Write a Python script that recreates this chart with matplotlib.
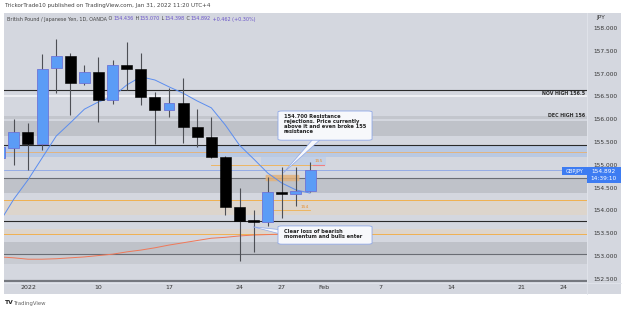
import numpy as np
import pandas as pd
import matplotlib
matplotlib.use("Agg")
import matplotlib.pyplot as plt
from matplotlib.patches import Rectangle, FancyBboxPatch, Polygon
from matplotlib.text import Annotation

# daily GBPJPY candles, Dec 30 2021 .. Jan 31 2022 (weekdays)
opens  = [155.15, 155.37, 155.72, 155.46, 157.12, 157.39, 156.79, 157.04, 156.42, 157.19, 157.10, 156.49,
          156.20, 156.36, 155.83, 155.61, 155.17, 154.07, 153.79, 153.75, 154.40, 154.36, 154.436]
highs  = [155.45, 156.00, 155.92, 157.43, 157.76, 157.45, 157.19, 157.36, 157.30, 157.69, 157.45, 156.60,
          156.68, 156.90, 156.22, 156.05, 155.19, 154.49, 154.01, 154.73, 154.95, 154.95, 155.070]
lows   = [155.00, 155.00, 154.89, 155.32, 156.57, 156.09, 156.75, 155.94, 156.33, 156.64, 156.31, 155.46,
          156.05, 155.48, 155.39, 155.15, 153.90, 152.89, 153.09, 153.66, 153.83, 154.10, 154.398]
closes = [155.39, 155.72, 155.46, 157.10, 157.39, 156.79, 157.04, 156.42, 157.19, 157.10, 156.49, 156.20,
          156.36, 155.83, 155.61, 155.17, 154.07, 153.77, 153.75, 154.40, 154.36, 154.43, 154.892]
ma_fast = [153.75, 154.25, 154.67, 155.15, 155.63, 155.92, 156.22, 156.38, 156.49, 156.75, 156.93, 156.86,
           156.71, 156.57, 156.40, 156.25, 155.87, 155.43, 155.13, 154.82, 154.60, 154.45, 154.38]
ma_slow = [152.98, 152.96, 152.93, 152.93, 152.94, 152.96, 152.98, 153.01, 153.04, 153.09, 153.13, 153.18,
           153.24, 153.29, 153.34, 153.39, 153.41, 153.44, 153.46, 153.47, 153.48, 153.49, 153.50]

first_day = "2021-12-30"
tick_dates = ["2022-01-03", "2022-01-10", "2022-01-17", "2022-01-24", "2022-01-27",
              "2022-02-01", "2022-02-07", "2022-02-14", "2022-02-21", "2022-02-24"]
tick_labels = ["2022", "10", "17", "24", "27", "Feb", "7", "14", "21", "24"]
price_ticks = [152.5, 153.0, 153.5, 154.0, 154.5, 155.0, 155.5, 156.0, 156.5, 157.0, 157.5, 158.0]

# zones drawn by the author (price from, price to, colour)
zones = [(156.07, 156.00, "#c3c6cd"), (155.96, 155.63, "#bfc2c9"), (155.43, 155.17, "#b9c9e3"),
         (154.71, 154.38, "#bfc2c9"), (154.23, 153.90, "#ddd5cc"), (153.59, 153.48, "#ddd5cc"),
         (153.31, 153.04, "#bfc2c9"), (153.04, 152.82, "#c8cbd2")]
levels = [(156.64, "#2a2a2a", 0.8), (156.50, "#f4f5f8", 1.2), (155.43, "#2a2a2a", 0.8),
          (155.28, "#e8b070", 0.6), (154.71, "#6a6d74", 0.8), (154.23, "#f0b050", 0.7),
          (153.76, "#2a2a2a", 0.8), (153.48, "#f0b050", 0.7), (153.04, "#6a6d74", 0.8),
          (152.46, "#75787f", 1.6)]

W, H = 625, 312
BG = "#d4d7df"
fig = plt.figure(figsize=(W / 100, H / 100), dpi=100)
fig.patch.set_facecolor("white")

def fx(px):
    return px / W

def fy(py):
    return 1 - py / H

fig.patches.append(Rectangle((fx(4), fy(294)), fx(617), 281 / H, transform=fig.transFigure,
                             facecolor=BG, edgecolor="none", zorder=-5))

ax = fig.add_axes([fx(4), fy(282), fx(583), 269 / H])
ax.set_facecolor(BG)
for s in ax.spines.values():
    s.set_visible(False)

days = pd.bdate_range(first_day, "2022-03-31")
n = len(opens)
x = np.arange(n)

for top, bot, col in zones:
    ax.axhspan(bot, top, color=col, lw=0, zorder=1)
for p, col, lw in levels:
    ax.axhline(p, color=col, lw=lw, zorder=2)

# extra small pieces
ax.add_patch(Rectangle((18.5, 155.0), 4.6, 0.17, facecolor="#c3d0e6", edgecolor="none", zorder=1.5))
ax.plot([15.0, 22.3], [155.0, 155.0], color="#f0b050", lw=0.6, zorder=2)
ax.plot([22.2, 23.0], [155.0, 155.0], color="#f08080", lw=0.8, zorder=2)
ax.text(22.6, 155.03, "155", fontsize=3.2, color="#e89030", ha="center", va="bottom", zorder=6)
ax.plot([19.0, 22.0], [154.0, 154.0], color="#f0b050", lw=0.6, zorder=2)
ax.text(21.6, 154.03, "154", fontsize=3.2, color="#e89030", ha="center", va="bottom", zorder=6)
ax.add_patch(FancyBboxPatch((18.85, 154.64), 2.4, 0.14, boxstyle="round,pad=0,rounding_size=0.07",
                            mutation_aspect=0.14 / 2.4 * 6, facecolor="#e3b27a", edgecolor="none",
                            alpha=0.85, zorder=3))

# moving averages
ax.plot(x, ma_fast, color="#5b8def", lw=0.7, zorder=4)
ax.plot(x, ma_slow, color="#f07858", lw=0.7, zorder=4)

# candles
o = np.array(opens); c = np.array(closes)
up = c >= o
ax.vlines(x, lows, highs, color="#4d4f55", lw=0.8, zorder=4.5)
ax.bar(x[up], (c - o)[up], bottom=o[up], width=0.78, color="#5b9cf6", edgecolor="#6c74d6",
       lw=0.6, zorder=5)
ax.bar(x[~up], np.maximum((o - c)[~up], 0.03), bottom=c[~up], width=0.78, color="#000000",
       edgecolor="#000000", lw=0.4, zorder=5)

# current price line
ax.axhline(closes[-1], color="#7d9be8", lw=0.5, zorder=2)

# level labels
ax.text(41.5, 156.565, "NOV HIGH 156.5", fontsize=3.4, fontweight="bold", color="#303030",
        ha="right", va="center", zorder=6)
ax.text(41.5, 156.09, "DEC HIGH 156", fontsize=3.4, fontweight="bold", color="#303030",
        ha="right", va="center", zorder=6)

# callouts
def callout(x0, x1, y0, y1, tri, text):
    ax.add_patch(Polygon(tri, closed=True, facecolor="#f7f8fb", edgecolor="#8fa8e8", lw=0.5, zorder=7))
    ax.add_patch(FancyBboxPatch((x0, y0), x1 - x0, y1 - y0,
                                boxstyle="round,pad=0,rounding_size=0.3", mutation_aspect=0.07,
                                facecolor="#f7f8fb", edgecolor="#8fa8e8", lw=0.6, zorder=7.5))
    ax.text(x0 + 0.4, y1 - 0.06, text, fontsize=3.7, color="#222222", ha="left", va="top",
            linespacing=1.0, zorder=8, fontweight="bold")

callout(19.73, 26.40, 155.54, 156.18, [(22.2, 155.56), (22.75, 155.56), (20.1, 154.82)],
        "154.700 Resistance\nrejections. Price currently\nabove it and even broke 155\nresistance")
callout(19.73, 26.40, 153.26, 153.66, [(19.8, 153.58), (19.8, 153.49), (17.96, 153.64)],
        "Clear loss of bearish\nmomentum and bulls enter")

ax.set_xlim(0.298, 41.645)
ax.set_ylim(152.430, 158.329)

# axes labels
tick_idx = [days.get_loc(pd.Timestamp(d)) for d in tick_dates]
ax.set_xticks(tick_idx)
ax.set_xticklabels(tick_labels)
ax.tick_params(axis="x", length=0, labelsize=4.5, pad=2.5, colors="#333333")
ax.yaxis.tick_right()
ax.set_yticks(price_ticks)
ax.set_yticklabels(["%.3f" % p for p in price_ticks])
ax.tick_params(axis="y", length=0, labelsize=4.2, pad=4.5, colors="#333333")

# separators
fig.add_artist(plt.Line2D([fx(587), fx(587)], [fy(13), fy(294)], color="#e2e5eb", lw=0.6))
fig.add_artist(plt.Line2D([fx(4), fx(621)], [fy(282.5), fy(282.5)], color="#e2e5eb", lw=0.6))

# price tags
fig.patches.append(Rectangle((fx(562), fy(175)), fx(25), 8 / H, transform=fig.transFigure,
                             facecolor="#3d7cf2", edgecolor="none", zorder=5))
fig.patches.append(Rectangle((fx(587), fy(183)), fx(34), 16 / H, transform=fig.transFigure,
                             facecolor="#3d7cf2", edgecolor="none", zorder=5))
fig.text(fx(574.5), fy(171), "GBPJPY", fontsize=3.6, color="white", ha="center", va="center", zorder=6)
fig.text(fx(603.5), fy(171), "154.892", fontsize=4.2, color="white", ha="center", va="center", zorder=6)
fig.text(fx(603.5), fy(178.5), "14:39:10", fontsize=4.2, color="white", ha="center", va="center", zorder=6)
fig.text(fx(601), fy(17), "JPY", fontsize=4.2, color="#333333", ha="center", va="center")

# header texts
fig.text(fx(5), fy(6), "TrickorTrade10 published on TradingView.com, Jan 31, 2022 11:20 UTC+4",
         fontsize=4.1, color="#444444", ha="left", va="center")
prev = fig.text(fx(7), fy(19), "British Pound / Japanese Yen, 1D, OANDA", fontsize=3.5,
                color="#444444", ha="left", va="center")
parts = [(" O", "#444444"), ("154.436", "#6a55c8"), (" H", "#444444"), ("155.070", "#6a55c8"),
         (" L", "#444444"), ("154.398", "#6a55c8"), (" C", "#444444"), ("154.892", "#6a55c8"),
         (" +0.462 (+0.30%)", "#6a55c8")]
for s, col in parts:
    prev = fig.add_artist(Annotation(s, xy=(1, 0.5), xycoords=prev, xytext=(0.3, 0),
                                     textcoords="offset points", fontsize=3.5,
                                     color=col, ha="left", va="center"))

fig.text(fx(5), fy(303), "TV", fontsize=4.3, fontweight="bold", color="#222222", ha="left", va="center")
fig.text(fx(13), fy(303), "TradingView", fontsize=3.9, color="#666666", ha="left", va="center")

fig.savefig("out.png", dpi=100, facecolor="white")
